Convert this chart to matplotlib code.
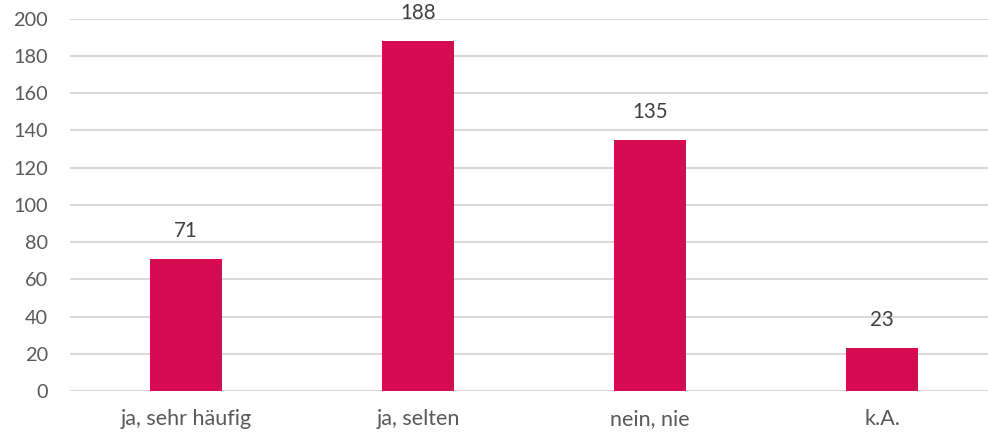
import matplotlib
matplotlib.use("Agg")
import matplotlib.pyplot as plt

# Antworten und Anzahl
kategorien = ["ja, sehr häufig", "ja, selten", "nein, nie", "k.A."]
anzahl = [71, 188, 135, 23]

plt.rcParams['font.family'] = ['Lato', 'DejaVu Sans']
grau = "#595959"

fig = plt.figure(figsize=(9.88, 4.33), dpi=100)
ax = fig.add_axes([70 / 988, 42 / 433, 918 / 988, 372.3 / 433])

x = range(len(kategorien))
balken = ax.bar(x, anzahl, width=0.31, color="#D60B52", zorder=3)

for b, wert in zip(balken, anzahl):
    ax.annotate(str(wert), (b.get_x() + b.get_width() / 2, wert),
                xytext=(0, 13), textcoords="offset points",
                ha="center", va="bottom", fontsize=14.8, color="#404040")

ax.set_xlim(-0.5, -0.5 + 918 / 232)
ax.set_ylim(0, 200)
ax.set_yticks(range(0, 201, 20))
ax.set_xticks(list(x))
ax.set_xticklabels(kategorien)

ax.yaxis.grid(True, color="#D9D9D9", linewidth=1.5, zorder=0)
ax.tick_params(axis="y", length=0, pad=16, labelsize=14.3, labelcolor=grau)
ax.tick_params(axis="x", length=0, pad=13, labelsize=15.5, labelcolor=grau)
for s in ax.spines.values():
    s.set_visible(False)

fig.savefig("out.png", dpi=100)
